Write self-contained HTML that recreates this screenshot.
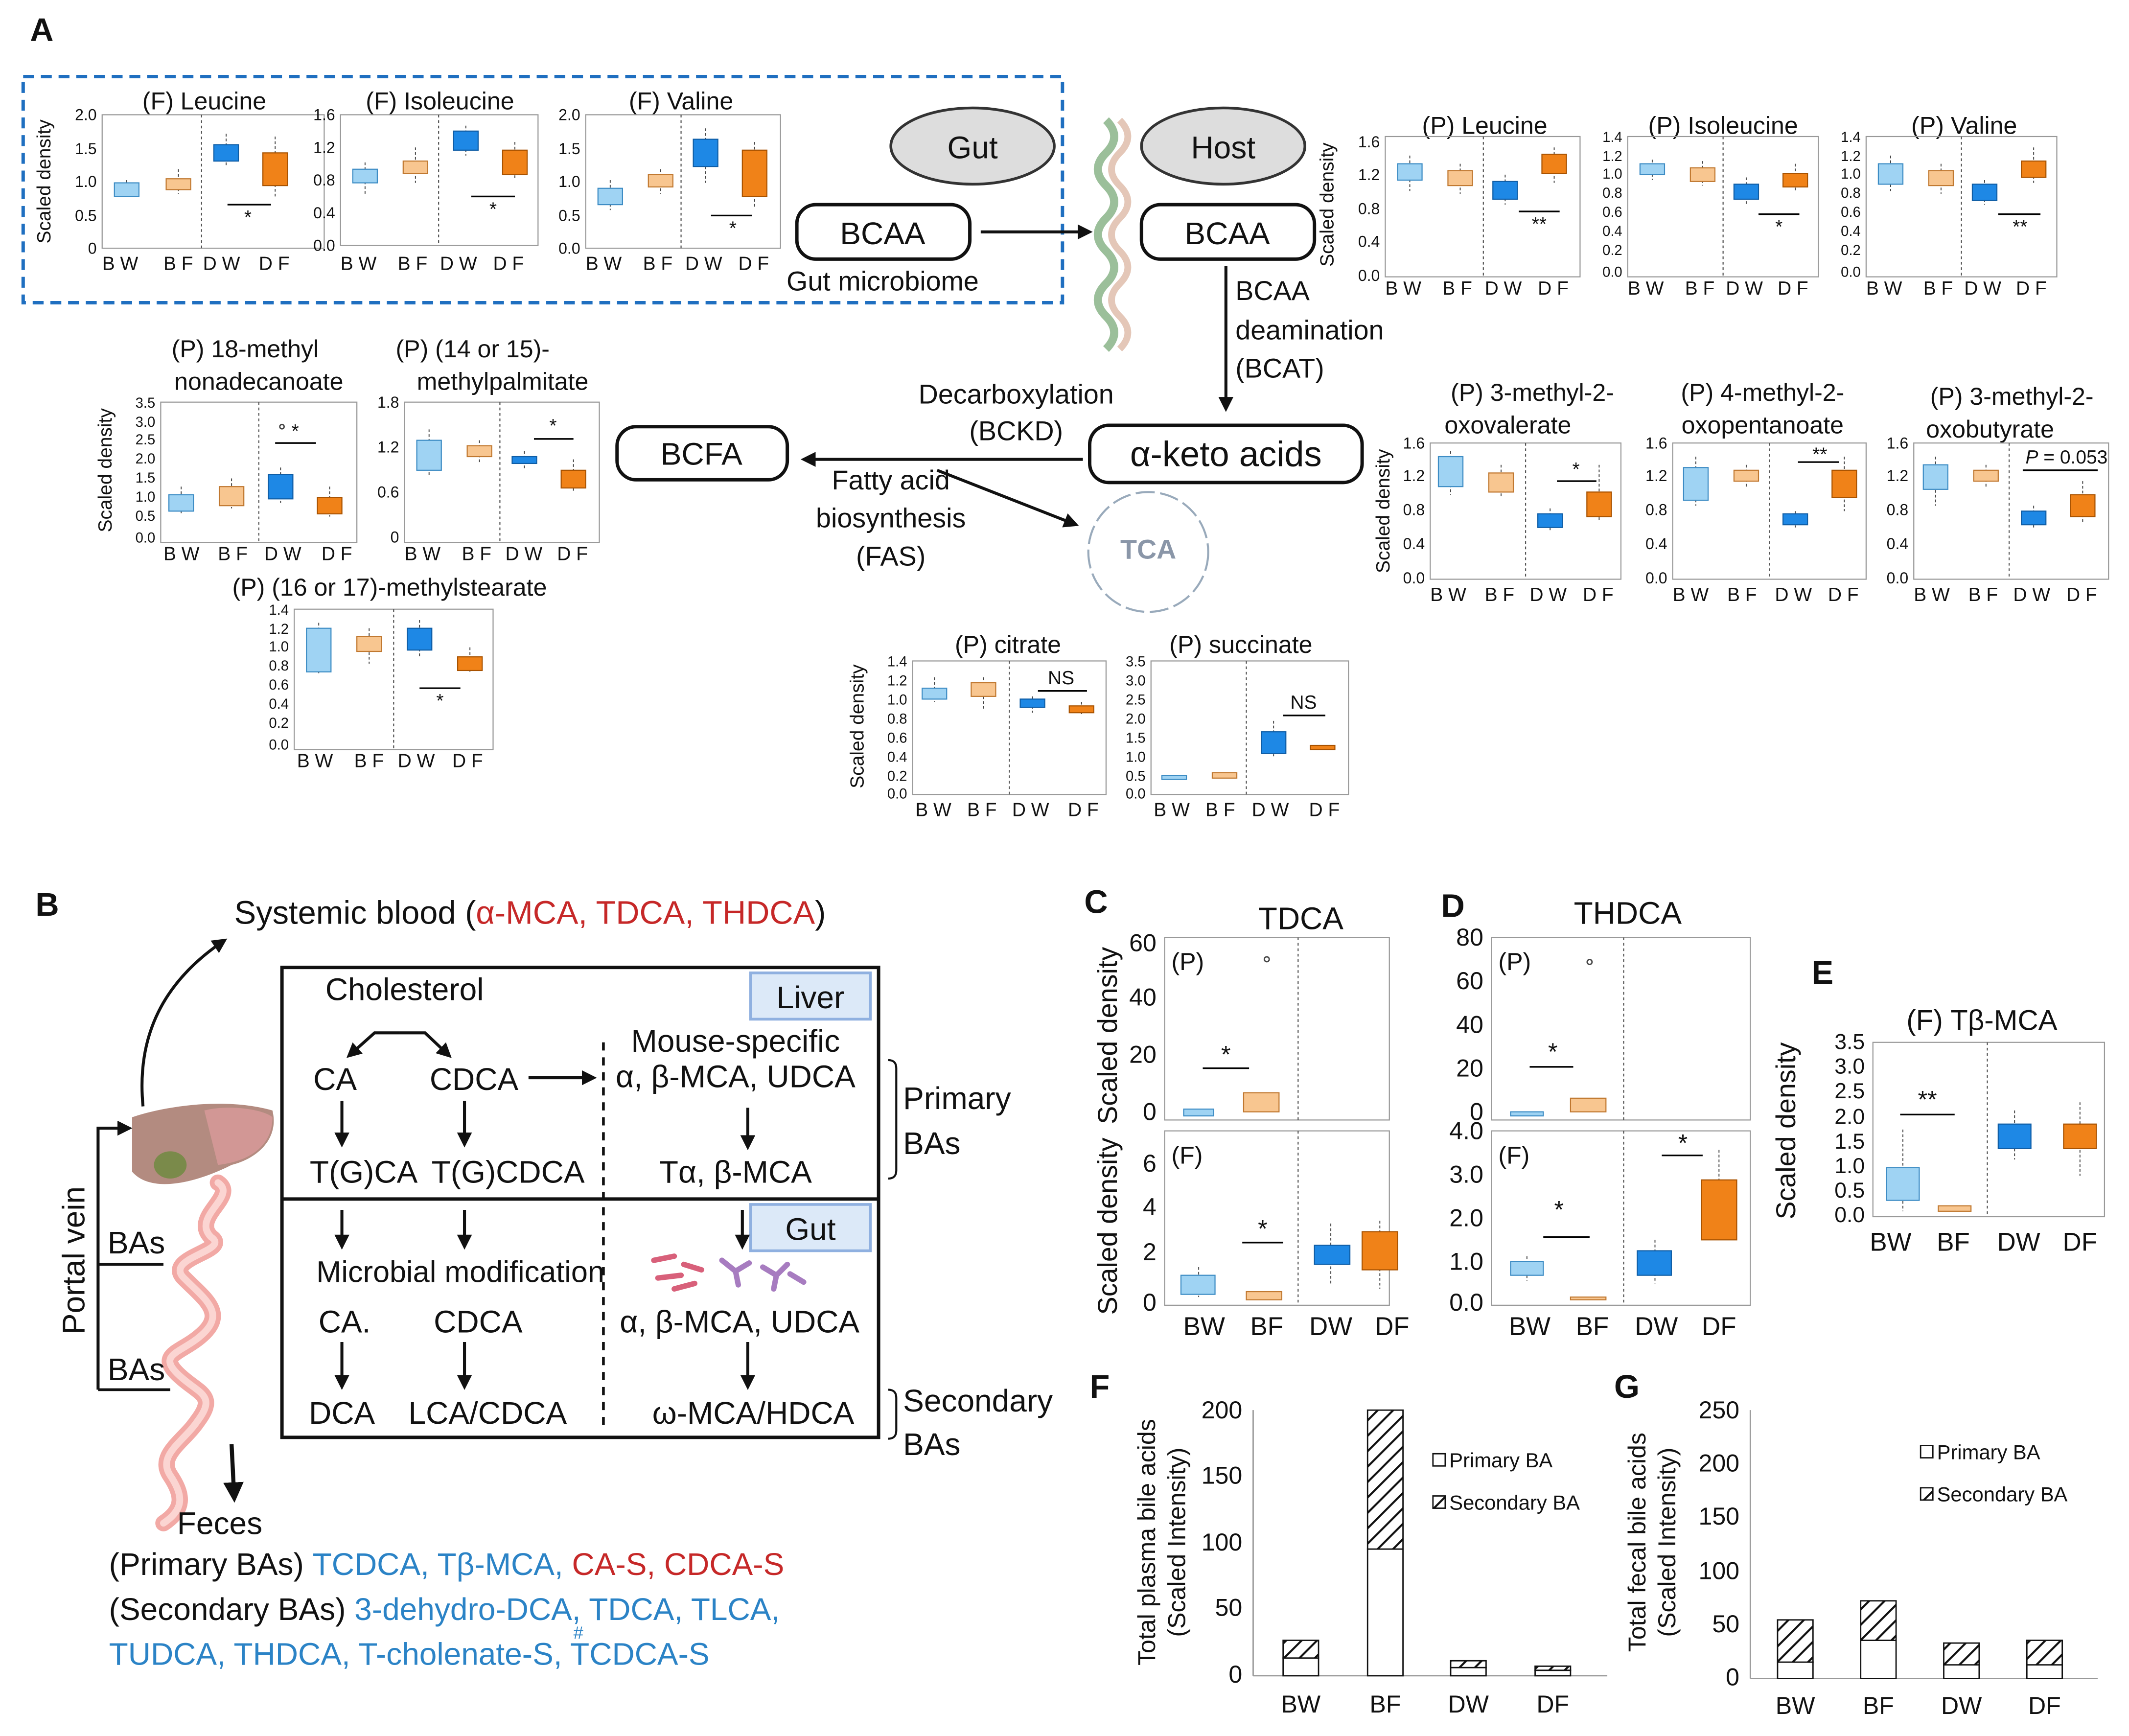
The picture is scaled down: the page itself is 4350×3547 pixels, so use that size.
<!DOCTYPE html>
<html><head><meta charset="utf-8"><style>
html,body{margin:0;padding:0;background:#fff}
svg{display:block}
text{font-family:"Liberation Sans",sans-serif;fill:#111}
.t{font-size:18px}.k{font-size:11.5px}.x{font-size:14px}.big{font-size:23px}
.fr{fill:none;stroke:#999;stroke-width:.8}
.dv{stroke:#555;stroke-width:.8;stroke-dasharray:2 2}
.bw{fill:#9fd3f3;stroke:#3d8cc4;stroke-width:.8}
.bf{fill:#f8c690;stroke:#c07830;stroke-width:.8}
.dw{fill:#1e88e5;stroke:#0f5da5;stroke-width:.8}
.df{fill:#f08218;stroke:#a85200;stroke-width:.8}
.w{stroke:#444;stroke-width:.7;stroke-dasharray:2 1.5}
.s{stroke:#000;stroke-width:1.2}
.ar{stroke:#111;stroke-width:2.2;fill:none}
.bx{fill:#fff;stroke:#111;stroke-width:2.5}
</style></head><body>
<svg width="4350" height="3547" viewBox="0 0 1563 1274" xmlns="http://www.w3.org/2000/svg">
<defs><marker id="m" viewBox="0 0 10 10" refX="8" refY="5" markerWidth="5" markerHeight="5" orient="auto"><path d="M0,0L10,5L0,10z" fill="#111"/></marker></defs>

<text x="22" y="30" style="font-size:24px;font-weight:bold">A</text>
<rect x="17" y="56" width="763" height="166" fill="none" stroke="#1f6fc0" stroke-width="2.5" stroke-dasharray="8 5"/>

<!-- F Leucine -->
<g transform="translate(75,84)">
<text x="75" y="-4" class="t" text-anchor="middle">(F) Leucine</text>
<rect class="fr" width="163" height="98"/><line class="dv" x1="73" y1="0" x2="73" y2="98"/>
<g class="k" text-anchor="end"><text x="-4" y="4">2.0</text><text x="-4" y="29">1.5</text><text x="-4" y="53">1.0</text><text x="-4" y="78">0.5</text><text x="-4" y="102">0</text></g>
<text x="-38" y="49" class="x" transform="rotate(-90 -38 49)" text-anchor="middle">Scaled density</text>
<line class="w" x1="18" y1="48" x2="18" y2="62"/><rect class="bw" x="9" y="50" width="18" height="10"/>
<line class="w" x1="56" y1="40" x2="56" y2="58"/><rect class="bf" x="47" y="47" width="18" height="8"/>
<line class="w" x1="91" y1="14" x2="91" y2="38"/><rect class="dw" x="82" y="22" width="18" height="12"/>
<line class="w" x1="127" y1="16" x2="127" y2="60"/><rect class="df" x="118" y="28" width="18" height="24"/>
<line class="s" x1="92" y1="66" x2="124" y2="66"/><text x="107" y="80" class="x" text-anchor="middle">*</text>
<g class="x"><text x="0" y="114">B W</text><text x="45" y="114">B F</text><text x="74" y="114">D W</text><text x="115" y="114">D F</text></g>
</g>
<!-- F Isoleucine -->
<g transform="translate(250,84)">
<text x="73" y="-4" class="t" text-anchor="middle">(F) Isoleucine</text>
<rect class="fr" width="145" height="96"/><line class="dv" x1="72" y1="0" x2="72" y2="96"/>
<g class="k" text-anchor="end"><text x="-4" y="4">1.6</text><text x="-4" y="28">1.2</text><text x="-4" y="52">0.8</text><text x="-4" y="76">0.4</text><text x="-4" y="100">0.0</text></g>
<line class="w" x1="18" y1="35" x2="18" y2="58"/><rect class="bw" x="9" y="40" width="18" height="10"/>
<line class="w" x1="55" y1="24" x2="55" y2="50"/><rect class="bf" x="46" y="34" width="18" height="9"/>
<line class="w" x1="92" y1="8" x2="92" y2="30"/><rect class="dw" x="83" y="12" width="18" height="14"/>
<line class="w" x1="128" y1="20" x2="128" y2="48"/><rect class="df" x="119" y="26" width="18" height="18"/>
<line class="s" x1="96" y1="60" x2="128" y2="60"/><text x="112" y="74" class="x" text-anchor="middle">*</text>
<g class="x"><text x="0" y="114">B W</text><text x="42" y="114">B F</text><text x="73" y="114">D W</text><text x="112" y="114">D F</text></g>
</g>
<!-- F Valine -->
<g transform="translate(430,84)">
<text x="70" y="-4" class="t" text-anchor="middle">(F) Valine</text>
<rect class="fr" width="143" height="98"/><line class="dv" x1="70" y1="0" x2="70" y2="98"/>
<g class="k" text-anchor="end"><text x="-4" y="4">2.0</text><text x="-4" y="29">1.5</text><text x="-4" y="53">1.0</text><text x="-4" y="78">0.5</text><text x="-4" y="102">0.0</text></g>
<line class="w" x1="18" y1="48" x2="18" y2="70"/><rect class="bw" x="9" y="54" width="18" height="12"/>
<line class="w" x1="55" y1="40" x2="55" y2="58"/><rect class="bf" x="46" y="44" width="18" height="9"/>
<line class="w" x1="88" y1="10" x2="88" y2="50"/><rect class="dw" x="79" y="18" width="18" height="20"/>
<line class="w" x1="124" y1="20" x2="124" y2="68"/><rect class="df" x="115" y="26" width="18" height="34"/>
<line class="s" x1="92" y1="74" x2="122" y2="74"/><text x="108" y="88" class="x" text-anchor="middle">*</text>
<g class="x"><text x="0" y="114">B W</text><text x="42" y="114">B F</text><text x="73" y="114">D W</text><text x="112" y="114">D F</text></g>
</g>

<!-- Gut / Host -->
<ellipse cx="714" cy="107" rx="60" ry="28" fill="#ddd" stroke="#333" stroke-width="2"/>
<text x="714" y="116" class="big" text-anchor="middle">Gut</text>
<ellipse cx="898" cy="107" rx="60" ry="28" fill="#ddd" stroke="#333" stroke-width="2"/>
<text x="898" y="116" class="big" text-anchor="middle">Host</text>
<rect class="bx" x="585" y="150" width="127" height="40" rx="14"/><text x="648" y="179" class="big" text-anchor="middle">BCAA</text>
<rect class="bx" x="838" y="150" width="127" height="40" rx="14"/><text x="901" y="179" class="big" text-anchor="middle">BCAA</text>
<line class="ar" x1="720" y1="170" x2="800" y2="170" marker-end="url(#m)"/>
<text x="648" y="213" class="big" text-anchor="middle" style="font-size:20px">Gut  microbiome</text>
<path d="M812,88 q12,12 0,24 q-12,12 0,24 q12,12 0,24 q-12,12 0,24 q12,12 0,24 q-12,12 0,24 q12,12 0,24" fill="none" stroke="#9bbf9a" stroke-width="6"/>
<path d="M822,88 q12,12 0,24 q-12,12 0,24 q12,12 0,24 q-12,12 0,24 q12,12 0,24 q-12,12 0,24 q12,12 0,24" fill="none" stroke="#e4c7b8" stroke-width="5"/>
<line class="ar" x1="900" y1="195" x2="900" y2="300" marker-end="url(#m)"/>
<g style="font-size:20px"><text x="907" y="220">BCAA</text><text x="907" y="249">deamination</text><text x="907" y="277">(BCAT)</text></g>
<rect class="bx" x="800" y="312" width="200" height="42" rx="14"/><text x="900" y="342" class="big" text-anchor="middle" style="font-size:26px">α-keto acids</text>
<rect class="bx" x="453" y="313" width="125" height="39" rx="14"/><text x="515" y="341" class="big" text-anchor="middle">BCFA</text>
<line class="ar" x1="795" y1="337" x2="590" y2="337" marker-end="url(#m)"/>
<g style="font-size:20px" text-anchor="middle"><text x="746" y="296">Decarboxylation</text><text x="746" y="323">(BCKD)</text>
<text x="654" y="359">Fatty acid</text><text x="654" y="387">biosynthesis</text><text x="654" y="415">(FAS)</text></g>
<line class="ar" x1="688" y1="345" x2="790" y2="385" marker-end="url(#m)"/>
<circle cx="843" cy="405" r="44" fill="none" stroke="#9ab" stroke-width="1.5" stroke-dasharray="14 4"/>
<text x="843" y="410" text-anchor="middle" style="font-size:20px;font-weight:bold;fill:#8a96a8">TCA</text>

<!-- P Leucine -->
<g transform="translate(1017,100)">
<text x="73" y="-2" class="t" text-anchor="middle">(P) Leucine</text>
<rect class="fr" width="143" height="103"/><line class="dv" x1="72" y1="0" x2="72" y2="103"/>
<g class="k" text-anchor="end"><text x="-4" y="8">1.6</text><text x="-4" y="32">1.2</text><text x="-4" y="57">0.8</text><text x="-4" y="81">0.4</text><text x="-4" y="106">0.0</text></g>
<text x="-38" y="50" class="x" transform="rotate(-90 -38 50)" text-anchor="middle">Scaled density</text>
<line class="w" x1="18" y1="14" x2="18" y2="40"/><rect class="bw" x="9" y="20" width="18" height="12"/>
<line class="w" x1="55" y1="20" x2="55" y2="42"/><rect class="bf" x="46" y="25" width="18" height="11"/>
<line class="w" x1="88" y1="28" x2="88" y2="50"/><rect class="dw" x="79" y="33" width="18" height="13"/>
<line class="w" x1="124" y1="8" x2="124" y2="34"/><rect class="df" x="115" y="13" width="18" height="14"/>
<line class="s" x1="98" y1="55" x2="128" y2="55"/><text x="113" y="69" class="x" text-anchor="middle">**</text>
<g class="x"><text x="0" y="116">B W</text><text x="42" y="116">B F</text><text x="73" y="116">D W</text><text x="112" y="116">D F</text></g>
</g>
<!-- P Isoleucine -->
<g transform="translate(1195,100)">
<text x="70" y="-2" class="t" text-anchor="middle">(P) Isoleucine</text>
<rect class="fr" width="140" height="103"/><line class="dv" x1="70" y1="0" x2="70" y2="103"/>
<g class="k" text-anchor="end" style="font-size:10.5px"><text x="-4" y="4">1.4</text><text x="-4" y="18">1.2</text><text x="-4" y="31">1.0</text><text x="-4" y="45">0.8</text><text x="-4" y="59">0.6</text><text x="-4" y="73">0.4</text><text x="-4" y="87">0.2</text><text x="-4" y="103">0.0</text></g>
<line class="w" x1="18" y1="17" x2="18" y2="32"/><rect class="bw" x="9" y="20" width="18" height="8"/>
<line class="w" x1="55" y1="18" x2="55" y2="36"/><rect class="bf" x="46" y="23" width="18" height="10"/>
<line class="w" x1="87" y1="30" x2="87" y2="50"/><rect class="dw" x="78" y="35" width="18" height="11"/>
<line class="w" x1="123" y1="20" x2="123" y2="40"/><rect class="df" x="114" y="27" width="18" height="10"/>
<line class="s" x1="96" y1="57" x2="126" y2="57"/><text x="111" y="71" class="x" text-anchor="middle">*</text>
<g class="x"><text x="0" y="116">B W</text><text x="42" y="116">B F</text><text x="72" y="116">D W</text><text x="110" y="116">D F</text></g>
</g>
<!-- P Valine -->
<g transform="translate(1370,100)">
<text x="72" y="-2" class="t" text-anchor="middle">(P) Valine</text>
<rect class="fr" width="140" height="103"/><line class="dv" x1="70" y1="0" x2="70" y2="103"/>
<g class="k" text-anchor="end" style="font-size:10.5px"><text x="-4" y="4">1.4</text><text x="-4" y="18">1.2</text><text x="-4" y="31">1.0</text><text x="-4" y="45">0.8</text><text x="-4" y="59">0.6</text><text x="-4" y="73">0.4</text><text x="-4" y="87">0.2</text><text x="-4" y="103">0.0</text></g>
<line class="w" x1="18" y1="14" x2="18" y2="40"/><rect class="bw" x="9" y="20" width="18" height="15"/>
<line class="w" x1="55" y1="20" x2="55" y2="42"/><rect class="bf" x="46" y="25" width="18" height="11"/>
<line class="w" x1="87" y1="32" x2="87" y2="50"/><rect class="dw" x="78" y="35" width="18" height="12"/>
<line class="w" x1="123" y1="8" x2="123" y2="34"/><rect class="df" x="114" y="18" width="18" height="12"/>
<line class="s" x1="97" y1="57" x2="128" y2="57"/><text x="113" y="71" class="x" text-anchor="middle">**</text>
<g class="x"><text x="0" y="116">B W</text><text x="42" y="116">B F</text><text x="72" y="116">D W</text><text x="110" y="116">D F</text></g>
</g>

<!-- 18-methyl -->
<g transform="translate(118,295)">
<text x="62" y="-33" class="t" text-anchor="middle">(P) 18-methyl</text><text x="72" y="-9" class="t" text-anchor="middle">nonadecanoate</text>
<rect class="fr" width="144" height="103"/><line class="dv" x1="72" y1="0" x2="72" y2="103"/>
<g class="k" text-anchor="end" style="font-size:10.5px"><text x="-4" y="4">3.5</text><text x="-4" y="18">3.0</text><text x="-4" y="31">2.5</text><text x="-4" y="45">2.0</text><text x="-4" y="59">1.5</text><text x="-4" y="73">1.0</text><text x="-4" y="87">0.5</text><text x="-4" y="103">0.0</text></g>
<text x="-36" y="50" class="x" transform="rotate(-90 -36 50)" text-anchor="middle">Scaled density</text>
<line class="w" x1="15" y1="62" x2="15" y2="82"/><rect class="bw" x="6" y="68" width="18" height="12"/>
<line class="w" x1="52" y1="56" x2="52" y2="78"/><rect class="bf" x="43" y="62" width="18" height="14"/>
<line class="w" x1="88" y1="48" x2="88" y2="74"/><rect class="dw" x="79" y="53" width="18" height="18"/>
<line class="w" x1="124" y1="62" x2="124" y2="84"/><rect class="df" x="115" y="70" width="18" height="12"/>
<line class="s" x1="84" y1="30" x2="114" y2="30"/><text x="96" y="26" class="x">*</text><circle cx="89" cy="18" r="1.6" fill="none" stroke="#444"/>
<g class="x"><text x="2" y="116">B W</text><text x="42" y="116">B F</text><text x="76" y="116">D W</text><text x="118" y="116">D F</text></g>
</g>
<!-- 14 or 15 -->
<g transform="translate(297,295)">
<text x="50" y="-33" class="t" text-anchor="middle">(P) (14 or 15)-</text><text x="72" y="-9" class="t" text-anchor="middle">methylpalmitate</text>
<rect class="fr" width="143" height="103"/><line class="dv" x1="70" y1="0" x2="70" y2="103"/>
<g class="k" text-anchor="end"><text x="-4" y="4">1.8</text><text x="-4" y="37">1.2</text><text x="-4" y="70">0.6</text><text x="-4" y="103">0</text></g>
<line class="w" x1="18" y1="20" x2="18" y2="54"/><rect class="bw" x="9" y="28" width="18" height="22"/>
<line class="w" x1="55" y1="28" x2="55" y2="44"/><rect class="bf" x="46" y="32" width="18" height="8"/>
<line class="w" x1="88" y1="36" x2="88" y2="50"/><rect class="dw" x="79" y="40" width="18" height="5"/>
<line class="w" x1="124" y1="42" x2="124" y2="66"/><rect class="df" x="115" y="50" width="18" height="13"/>
<line class="s" x1="95" y1="27" x2="124" y2="27"/><text x="109" y="22" class="x" text-anchor="middle">*</text>
<g class="x"><text x="0" y="116">B W</text><text x="42" y="116">B F</text><text x="74" y="116">D W</text><text x="112" y="116">D F</text></g>
</g>
<!-- 16 or 17 -->
<g transform="translate(216,447)">
<text x="70" y="-10" class="t" text-anchor="middle">(P) (16 or 17)-methylstearate</text>
<rect class="fr" width="146" height="103"/><line class="dv" x1="73" y1="0" x2="73" y2="103"/>
<g class="k" text-anchor="end" style="font-size:10.5px"><text x="-4" y="4">1.4</text><text x="-4" y="18">1.2</text><text x="-4" y="31">1.0</text><text x="-4" y="45">0.8</text><text x="-4" y="59">0.6</text><text x="-4" y="73">0.4</text><text x="-4" y="87">0.2</text><text x="-4" y="103">0.0</text></g>
<line class="w" x1="18" y1="10" x2="18" y2="48"/><rect class="bw" x="9" y="14" width="18" height="32"/>
<line class="w" x1="55" y1="14" x2="55" y2="40"/><rect class="bf" x="46" y="20" width="18" height="11"/>
<line class="w" x1="92" y1="8" x2="92" y2="36"/><rect class="dw" x="83" y="14" width="18" height="16"/>
<line class="w" x1="129" y1="28" x2="129" y2="46"/><rect class="df" x="120" y="35" width="18" height="10"/>
<line class="s" x1="92" y1="58" x2="122" y2="58"/><text x="107" y="72" class="x" text-anchor="middle">*</text>
<g class="x"><text x="2" y="116">B W</text><text x="44" y="116">B F</text><text x="76" y="116">D W</text><text x="116" y="116">D F</text></g>
</g>

<!-- 3-methyl-2-oxovalerate -->
<g transform="translate(1050,325)">
<text x="75" y="-31" class="t" text-anchor="middle">(P) 3-methyl-2-</text><text x="57" y="-7" class="t" text-anchor="middle">oxovalerate</text>
<rect class="fr" width="140" height="100"/><line class="dv" x1="70" y1="0" x2="70" y2="100"/>
<g class="k" text-anchor="end"><text x="-4" y="4">1.6</text><text x="-4" y="28">1.2</text><text x="-4" y="53">0.8</text><text x="-4" y="78">0.4</text><text x="-4" y="103">0.0</text></g>
<text x="-30" y="50" class="x" transform="rotate(-90 -30 50)" text-anchor="middle">Scaled density</text>
<line class="w" x1="15" y1="6" x2="15" y2="38"/><rect class="bw" x="6" y="10" width="18" height="22"/>
<line class="w" x1="52" y1="16" x2="52" y2="40"/><rect class="bf" x="43" y="22" width="18" height="14"/>
<line class="w" x1="88" y1="48" x2="88" y2="64"/><rect class="dw" x="79" y="52" width="18" height="10"/>
<line class="w" x1="124" y1="16" x2="124" y2="58"/><rect class="df" x="115" y="36" width="18" height="18"/>
<line class="s" x1="93" y1="28" x2="122" y2="28"/><text x="107" y="24" class="x" text-anchor="middle">*</text>
<g class="x"><text x="0" y="116">B W</text><text x="40" y="116">B F</text><text x="73" y="116">D W</text><text x="112" y="116">D F</text></g>
</g>
<!-- 4-methyl -->
<g transform="translate(1228,325)">
<text x="66" y="-31" class="t" text-anchor="middle">(P) 4-methyl-2-</text><text x="66" y="-7" class="t" text-anchor="middle">oxopentanoate</text>
<rect class="fr" width="142" height="100"/><line class="dv" x1="71" y1="0" x2="71" y2="100"/>
<g class="k" text-anchor="end"><text x="-4" y="4">1.6</text><text x="-4" y="28">1.2</text><text x="-4" y="53">0.8</text><text x="-4" y="78">0.4</text><text x="-4" y="103">0.0</text></g>
<line class="w" x1="17" y1="10" x2="17" y2="46"/><rect class="bw" x="8" y="18" width="18" height="24"/>
<line class="w" x1="54" y1="16" x2="54" y2="32"/><rect class="bf" x="45" y="20" width="18" height="8"/>
<line class="w" x1="90" y1="50" x2="90" y2="62"/><rect class="dw" x="81" y="52" width="18" height="8"/>
<line class="w" x1="126" y1="10" x2="126" y2="50"/><rect class="df" x="117" y="20" width="18" height="20"/>
<line class="s" x1="92" y1="14" x2="122" y2="14"/><text x="108" y="13" class="x" text-anchor="middle">**</text>
<g class="x"><text x="0" y="116">B W</text><text x="40" y="116">B F</text><text x="75" y="116">D W</text><text x="114" y="116">D F</text></g>
</g>
<!-- 3-methyl-2-oxobutyrate -->
<g transform="translate(1405,325)">
<text x="72" y="-28" class="t" text-anchor="middle">(P) 3-methyl-2-</text><text x="56" y="-4" class="t" text-anchor="middle">oxobutyrate</text>
<rect class="fr" width="143" height="100"/><line class="dv" x1="70" y1="0" x2="70" y2="100"/>
<g class="k" text-anchor="end"><text x="-4" y="4">1.6</text><text x="-4" y="28">1.2</text><text x="-4" y="53">0.8</text><text x="-4" y="78">0.4</text><text x="-4" y="103">0.0</text></g>
<line class="w" x1="16" y1="10" x2="16" y2="46"/><rect class="bw" x="7" y="16" width="18" height="18"/>
<line class="w" x1="53" y1="16" x2="53" y2="32"/><rect class="bf" x="44" y="20" width="18" height="8"/>
<line class="w" x1="88" y1="46" x2="88" y2="62"/><rect class="dw" x="79" y="50" width="18" height="10"/>
<line class="w" x1="124" y1="28" x2="124" y2="58"/><rect class="df" x="115" y="38" width="18" height="16"/>
<line class="s" x1="80" y1="20" x2="135" y2="20"/><text x="82" y="15" class="x"><tspan style="font-style:italic">P</tspan> = 0.053</text>
<g class="x"><text x="0" y="116">B W</text><text x="40" y="116">B F</text><text x="73" y="116">D W</text><text x="112" y="116">D F</text></g>
</g>

<!-- citrate -->
<g transform="translate(670,485)">
<text x="70" y="-6" class="t" text-anchor="middle">(P) citrate</text>
<rect class="fr" width="142" height="98"/><line class="dv" x1="71" y1="0" x2="71" y2="98"/>
<g class="k" text-anchor="end" style="font-size:10.5px"><text x="-4" y="4">1.4</text><text x="-4" y="18">1.2</text><text x="-4" y="32">1.0</text><text x="-4" y="46">0.8</text><text x="-4" y="60">0.6</text><text x="-4" y="74">0.4</text><text x="-4" y="88">0.2</text><text x="-4" y="101">0.0</text></g>
<text x="-36" y="48" class="x" transform="rotate(-90 -36 48)" text-anchor="middle">Scaled density</text>
<line class="w" x1="16" y1="12" x2="16" y2="30"/><rect class="bw" x="7" y="20" width="18" height="8"/>
<line class="w" x1="52" y1="12" x2="52" y2="36"/><rect class="bf" x="43" y="16" width="18" height="10"/>
<line class="w" x1="88" y1="26" x2="88" y2="38"/><rect class="dw" x="79" y="28" width="18" height="6"/>
<line class="w" x1="124" y1="30" x2="124" y2="40"/><rect class="df" x="115" y="33" width="18" height="5"/>
<line class="s" x1="92" y1="22" x2="128" y2="22"/><text x="109" y="17" class="x" text-anchor="middle">NS</text>
<g class="x"><text x="2" y="114">B W</text><text x="40" y="114">B F</text><text x="73" y="114">D W</text><text x="114" y="114">D F</text></g>
</g>
<!-- succinate -->
<g transform="translate(845,485)">
<text x="66" y="-6" class="t" text-anchor="middle">(P) succinate</text>
<rect class="fr" width="145" height="98"/><line class="dv" x1="70" y1="0" x2="70" y2="98"/>
<g class="k" text-anchor="end" style="font-size:10.5px"><text x="-4" y="4">3.5</text><text x="-4" y="18">3.0</text><text x="-4" y="32">2.5</text><text x="-4" y="46">2.0</text><text x="-4" y="60">1.5</text><text x="-4" y="74">1.0</text><text x="-4" y="88">0.5</text><text x="-4" y="101">0.0</text></g>
<rect class="bw" x="8" y="84" width="18" height="3"/>
<rect class="bf" x="45" y="82" width="18" height="4"/>
<line class="w" x1="90" y1="44" x2="90" y2="70"/><rect class="dw" x="81" y="52" width="18" height="16"/>
<rect class="df" x="117" y="62" width="18" height="3"/>
<line class="s" x1="97" y1="40" x2="128" y2="40"/><text x="112" y="35" class="x" text-anchor="middle">NS</text>
<g class="x"><text x="2" y="114">B W</text><text x="40" y="114">B F</text><text x="74" y="114">D W</text><text x="116" y="114">D F</text></g>
</g>

<!-- B -->
<text x="26" y="672" style="font-size:24px;font-weight:bold">B</text>
<text x="172" y="678" style="font-size:24px">Systemic blood (<tspan style="fill:#c62828">α-MCA, TDCA, THDCA</tspan>)</text>
<path d="M105,812 C100,760 120,720 165,690" class="ar" marker-end="url(#m)"/>
<rect x="207" y="710" width="438" height="345" fill="none" stroke="#111" stroke-width="2.5"/>
<line x1="207" y1="880" x2="645" y2="880" stroke="#111" stroke-width="2.5"/>
<line x1="443" y1="765" x2="443" y2="1050" stroke="#111" stroke-width="2" stroke-dasharray="6 5"/>
<rect x="551" y="714" width="88" height="34" fill="#dce9f8" stroke="#8fb0e0" stroke-width="2"/><text x="595" y="740" class="big" text-anchor="middle">Liver</text>
<rect x="551" y="884" width="88" height="34" fill="#dce9f8" stroke="#8fb0e0" stroke-width="2"/><text x="595" y="910" class="big" text-anchor="middle">Gut</text>
<g class="big" text-anchor="middle">
<text x="297" y="734">Cholesterol</text>
<text x="246" y="800">CA</text><text x="348" y="800">CDCA</text>
<text x="540" y="772">Mouse-specific</text><text x="540" y="798">α, β-MCA, UDCA</text>
<text x="267" y="868">T(G)CA</text><text x="373" y="868">T(G)CDCA</text><text x="540" y="868">Tα, β-MCA</text>
<text x="338" y="941" style="font-size:22px">Microbial modification</text>
<text x="253" y="978">CA.</text><text x="351" y="978">CDCA</text><text x="543" y="978">α, β-MCA, UDCA</text>
<text x="251" y="1045">DCA</text><text x="358" y="1045">LCA/CDCA</text><text x="553" y="1045">ω-MCA/HDCA</text>
</g>
<g class="ar" marker-end="url(#m)">
<path d="M293,758 L275,758 L256,775"/><path d="M293,758 L312,758 L330,775"/>
<line x1="388" y1="791" x2="436" y2="791"/>
<line x1="251" y1="808" x2="251" y2="840"/><line x1="341" y1="808" x2="341" y2="840"/><line x1="549" y1="813" x2="549" y2="842"/>
<line x1="251" y1="888" x2="251" y2="915"/><line x1="341" y1="888" x2="341" y2="915"/><line x1="545" y1="888" x2="545" y2="915"/>
<line x1="251" y1="985" x2="251" y2="1018"/><line x1="341" y1="985" x2="341" y2="1018"/><line x1="549" y1="985" x2="549" y2="1018"/>
</g>
<path d="M652,778 q6,0 6,6 v75 q0,6 -6,6" fill="none" stroke="#111" stroke-width="1.5"/>
<path d="M652,1020 q6,0 6,6 v24 q0,6 -6,6" fill="none" stroke="#111" stroke-width="1.5"/>
<g class="big"><text x="663" y="814">Primary</text><text x="663" y="847">BAs</text><text x="663" y="1036">Secondary</text><text x="663" y="1068">BAs</text></g>
<!-- bacteria -->
<g stroke-width="4" stroke-linecap="round">
<line x1="480" y1="925" x2="495" y2="922" stroke="#d8607a"/><line x1="483" y1="938" x2="500" y2="936" stroke="#d8607a"/><line x1="502" y1="928" x2="515" y2="932" stroke="#d8607a"/><line x1="495" y1="946" x2="510" y2="942" stroke="#d8607a"/>
<path d="M530,925 l10,8 l10,-6 M540,933 l2,10 M560,930 l10,6 l8,-8 M570,936 l-2,10 M580,935 l10,6" stroke="#a77cc0" fill="none"/>
</g>
<!-- organs -->
<path d="M97,820 C120,812 165,805 200,815 C205,835 190,850 170,855 C140,870 110,875 97,860 Z" fill="#b38b80"/>
<path d="M150,815 C170,810 195,815 200,820 C200,840 185,852 160,855 Z" fill="#d99a9a" opacity=".8"/>
<ellipse cx="125" cy="855" rx="12" ry="10" fill="#7a8a4a"/>
<path d="M160,868 c15,10 -20,25 -5,40 c15,10 -35,15 -20,30 c15,15 30,25 15,40 c-15,15 -35,15 -20,30 c15,15 30,15 15,35 c-10,15 -30,25 -20,40 c10,15 10,25 -5,35" fill="none" stroke="#f2a9a5" stroke-width="12" stroke-linecap="round"/>
<path d="M160,868 c15,10 -20,25 -5,40 c15,10 -35,15 -20,30 c15,15 30,25 15,40 c-15,15 -35,15 -20,30 c15,15 30,15 15,35 c-10,15 -30,25 -20,40 c10,15 10,25 -5,35" fill="none" stroke="#fbd5d2" stroke-width="5" stroke-linecap="round"/>
<line class="ar" x1="170" y1="1060" x2="172" y2="1100" marker-end="url(#m)" style="stroke-width:3"/>
<text x="62" y="925" class="big" transform="rotate(-90 62 925)" text-anchor="middle">Portal vein</text>
<path d="M72,1020 V828 H95" class="ar" marker-end="url(#m)"/>
<line x1="72" y1="928" x2="120" y2="928" stroke="#111" stroke-width="2"/>
<line x1="72" y1="1020" x2="125" y2="1020" stroke="#111" stroke-width="2"/>
<text x="79" y="920" class="big">BAs</text><text x="79" y="1013" class="big">BAs</text>
<text x="130" y="1126" class="big">Feces</text>
<g class="big">
<text x="80" y="1156">(Primary BAs) <tspan style="fill:#2b83c6">TCDCA, Tβ-MCA, </tspan><tspan style="fill:#c62828">CA-S, CDCA-S</tspan></text>
<text x="80" y="1189">(Secondary BAs) <tspan style="fill:#2b83c6">3-dehydro-DCA, TDCA, TLCA,</tspan></text>
<text x="80" y="1222" style="fill:#2b83c6">TUDCA, THDCA,  T-cholenate-S,  TCDCA-S</text>
<text x="421" y="1203" style="fill:#2b83c6;font-size:13px">#</text>
</g>

<!-- C -->
<text x="796" y="670" style="font-size:24px;font-weight:bold">C</text>
<text x="955" y="682" class="big" text-anchor="middle">TDCA</text>
<g transform="translate(855,688)">
<rect class="fr" width="165" height="134"/><line class="dv" x1="98" y1="0" x2="98" y2="134"/>
<g class="t" text-anchor="end"><text x="-6" y="10">60</text><text x="-6" y="50">40</text><text x="-6" y="92">20</text><text x="-6" y="134">0</text></g>
<text x="5" y="24" class="t">(P)</text>
<rect class="bw" x="14" y="126" width="22" height="5"/><rect class="bf" x="58" y="114" width="26" height="14"/>
<line class="s" x1="28" y1="96" x2="62" y2="96"/><text x="45" y="92" class="t" text-anchor="middle">*</text>
<circle cx="75" cy="16" r="1.8" fill="none" stroke="#444"/>
</g>
<g transform="translate(855,830)">
<rect class="fr" width="165" height="128"/><line class="dv" x1="98" y1="0" x2="98" y2="128"/>
<g class="t" text-anchor="end"><text x="-6" y="30">6</text><text x="-6" y="62">4</text><text x="-6" y="95">2</text><text x="-6" y="132">0</text></g>
<text x="5" y="24" class="t">(F)</text>
<line class="w" x1="25" y1="100" x2="25" y2="122"/><rect class="bw" x="12" y="106" width="25" height="14"/>
<rect class="bf" x="60" y="118" width="26" height="6"/>
<line class="w" x1="122" y1="68" x2="122" y2="112"/><rect class="dw" x="110" y="84" width="26" height="14"/>
<line class="w" x1="158" y1="66" x2="158" y2="116"/><rect class="df" x="145" y="74" width="26" height="28"/>
<line class="s" x1="57" y1="82" x2="87" y2="82"/><text x="72" y="78" class="t" text-anchor="middle">*</text>
</g>
<text x="820" y="760" class="t" transform="rotate(-90 820 760)" text-anchor="middle" style="font-size:20px">Scaled density</text>
<text x="820" y="900" class="t" transform="rotate(-90 820 900)" text-anchor="middle" style="font-size:20px">Scaled density</text>
<g class="t" text-anchor="middle" style="font-size:19px"><text x="884" y="980">BW</text><text x="930" y="980">BF</text><text x="977" y="980">DW</text><text x="1022" y="980">DF</text></g>

<!-- D -->
<text x="1058" y="673" style="font-size:24px;font-weight:bold">D</text>
<text x="1195" y="678" class="big" text-anchor="middle">THDCA</text>
<g transform="translate(1095,688)">
<rect class="fr" width="190" height="134"/><line class="dv" x1="97" y1="0" x2="97" y2="134"/>
<g class="t" text-anchor="end"><text x="-6" y="6">80</text><text x="-6" y="38">60</text><text x="-6" y="70">40</text><text x="-6" y="102">20</text><text x="-6" y="134">0</text></g>
<text x="5" y="24" class="t">(P)</text>
<rect class="bw" x="14" y="128" width="24" height="3"/><rect class="bf" x="58" y="118" width="26" height="10"/>
<line class="s" x1="28" y1="95" x2="60" y2="95"/><text x="45" y="90" class="t" text-anchor="middle">*</text>
<circle cx="72" cy="18" r="1.8" fill="none" stroke="#444"/>
</g>
<g transform="translate(1095,830)">
<rect class="fr" width="190" height="128"/><line class="dv" x1="97" y1="0" x2="97" y2="128"/>
<g class="t" text-anchor="end"><text x="-6" y="6">4.0</text><text x="-6" y="38">3.0</text><text x="-6" y="70">2.0</text><text x="-6" y="102">1.0</text><text x="-6" y="132">0.0</text></g>
<text x="5" y="24" class="t">(F)</text>
<line class="w" x1="26" y1="92" x2="26" y2="110"/><rect class="bw" x="14" y="96" width="24" height="10"/>
<rect class="bf" x="58" y="122" width="26" height="2"/>
<line class="w" x1="120" y1="80" x2="120" y2="112"/><rect class="dw" x="107" y="88" width="25" height="18"/>
<line class="w" x1="167" y1="14" x2="167" y2="80"/><rect class="df" x="154" y="36" width="26" height="44"/>
<line class="s" x1="38" y1="78" x2="72" y2="78"/><text x="46" y="64" class="t">*</text>
<line class="s" x1="125" y1="18" x2="155" y2="18"/><text x="137" y="15" class="t">*</text>
</g>
<g class="t" text-anchor="middle" style="font-size:19px"><text x="1123" y="980">BW</text><text x="1169" y="980">BF</text><text x="1216" y="980">DW</text><text x="1262" y="980">DF</text></g>

<!-- E -->
<text x="1330" y="722" style="font-size:24px;font-weight:bold">E</text>
<text x="1455" y="756" class="t" text-anchor="middle" style="font-size:21px">(F) Tβ-MCA</text>
<g transform="translate(1375,765)">
<rect class="fr" width="170" height="128"/><line class="dv" x1="84" y1="0" x2="84" y2="128"/>
<g class="t" text-anchor="end" style="font-size:16px"><text x="-6" y="5">3.5</text><text x="-6" y="23">3.0</text><text x="-6" y="41">2.5</text><text x="-6" y="60">2.0</text><text x="-6" y="78">1.5</text><text x="-6" y="96">1.0</text><text x="-6" y="114">0.5</text><text x="-6" y="132">0.0</text></g>
<line class="w" x1="22" y1="64" x2="22" y2="124"/><rect class="bw" x="10" y="92" width="24" height="24"/>
<rect class="bf" x="48" y="120" width="24" height="4"/>
<line class="w" x1="104" y1="50" x2="104" y2="86"/><rect class="dw" x="92" y="60" width="24" height="18"/>
<line class="w" x1="152" y1="44" x2="152" y2="98"/><rect class="df" x="140" y="60" width="24" height="18"/>
<line class="s" x1="20" y1="53" x2="60" y2="53"/><text x="40" y="48" class="t" text-anchor="middle">**</text>
</g>
<text x="1318" y="830" class="t" transform="rotate(-90 1318 830)" text-anchor="middle" style="font-size:20px">Scaled density</text>
<g class="t" text-anchor="middle" style="font-size:19px"><text x="1388" y="918">BW</text><text x="1434" y="918">BF</text><text x="1482" y="918">DW</text><text x="1527" y="918">DF</text></g>

<defs><pattern id="h" patternUnits="userSpaceOnUse" width="8" height="8" patternTransform="rotate(45)"><rect width="8" height="8" fill="#fff"/><line x1="0" y1="0" x2="0" y2="8" stroke="#111" stroke-width="3"/></pattern></defs>
<!-- F -->
<text x="800" y="1026" style="font-size:24px;font-weight:bold">F</text>
<g transform="translate(920,1035)">
<line x1="0" y1="0" x2="0" y2="195" stroke="#999"/><line x1="0" y1="195" x2="260" y2="195" stroke="#999"/>
<g class="t" text-anchor="end"><text x="-8" y="6">200</text><text x="-8" y="54">150</text><text x="-8" y="103">100</text><text x="-8" y="151">50</text><text x="-8" y="200">0</text></g>
<rect x="22" y="182" width="26" height="13" fill="#fff" stroke="#111"/><rect x="22" y="169" width="26" height="13" fill="url(#h)" stroke="#111"/>
<rect x="84" y="102" width="26" height="93" fill="#fff" stroke="#111"/><rect x="84" y="0" width="26" height="102" fill="url(#h)" stroke="#111"/>
<rect x="145" y="189" width="26" height="6" fill="#fff" stroke="#111"/><rect x="145" y="184" width="26" height="5" fill="url(#h)" stroke="#111"/>
<rect x="207" y="191" width="26" height="4" fill="#fff" stroke="#111"/><rect x="207" y="188" width="26" height="3" fill="url(#h)" stroke="#111"/>
<rect x="132" y="32" width="9" height="9" fill="#fff" stroke="#111"/><text x="144" y="42" class="x" style="font-size:15px">Primary BA</text>
<rect x="132" y="63" width="9" height="9" fill="url(#h)" stroke="#111"/><text x="144" y="73" class="x" style="font-size:15px">Secondary BA</text>
</g>
<text x="848" y="1132" class="t" transform="rotate(-90 848 1132)" text-anchor="middle">Total plasma bile acids</text>
<text x="870" y="1132" class="t" transform="rotate(-90 870 1132)" text-anchor="middle">(Scaled Intensity)</text>
<g class="t" text-anchor="middle"><text x="955" y="1257">BW</text><text x="1017" y="1257">BF</text><text x="1078" y="1257">DW</text><text x="1140" y="1257">DF</text></g>

<!-- G -->
<text x="1185" y="1026" style="font-size:24px;font-weight:bold">G</text>
<g transform="translate(1285,1035)">
<line x1="0" y1="0" x2="0" y2="197" stroke="#999"/><line x1="0" y1="197" x2="255" y2="197" stroke="#999"/>
<g class="t" text-anchor="end"><text x="-8" y="6">250</text><text x="-8" y="45">200</text><text x="-8" y="84">150</text><text x="-8" y="124">100</text><text x="-8" y="163">50</text><text x="-8" y="202">0</text></g>
<rect x="20" y="185" width="26" height="12" fill="#fff" stroke="#111"/><rect x="20" y="154" width="26" height="31" fill="url(#h)" stroke="#111"/>
<rect x="81" y="169" width="26" height="28" fill="#fff" stroke="#111"/><rect x="81" y="140" width="26" height="29" fill="url(#h)" stroke="#111"/>
<rect x="142" y="187" width="26" height="10" fill="#fff" stroke="#111"/><rect x="142" y="171" width="26" height="16" fill="url(#h)" stroke="#111"/>
<rect x="203" y="187" width="26" height="10" fill="#fff" stroke="#111"/><rect x="203" y="169" width="26" height="18" fill="url(#h)" stroke="#111"/>
<rect x="125" y="26" width="9" height="9" fill="#fff" stroke="#111"/><text x="137" y="36" class="x" style="font-size:15px">Primary BA</text>
<rect x="125" y="57" width="9" height="9" fill="url(#h)" stroke="#111"/><text x="137" y="67" class="x" style="font-size:15px">Secondary BA</text>
</g>
<text x="1208" y="1132" class="t" transform="rotate(-90 1208 1132)" text-anchor="middle">Total fecal bile acids</text>
<text x="1230" y="1132" class="t" transform="rotate(-90 1230 1132)" text-anchor="middle">(Scaled Intensity)</text>
<g class="t" text-anchor="middle"><text x="1318" y="1258">BW</text><text x="1379" y="1258">BF</text><text x="1440" y="1258">DW</text><text x="1501" y="1258">DF</text></g>
</svg>
</body></html>
